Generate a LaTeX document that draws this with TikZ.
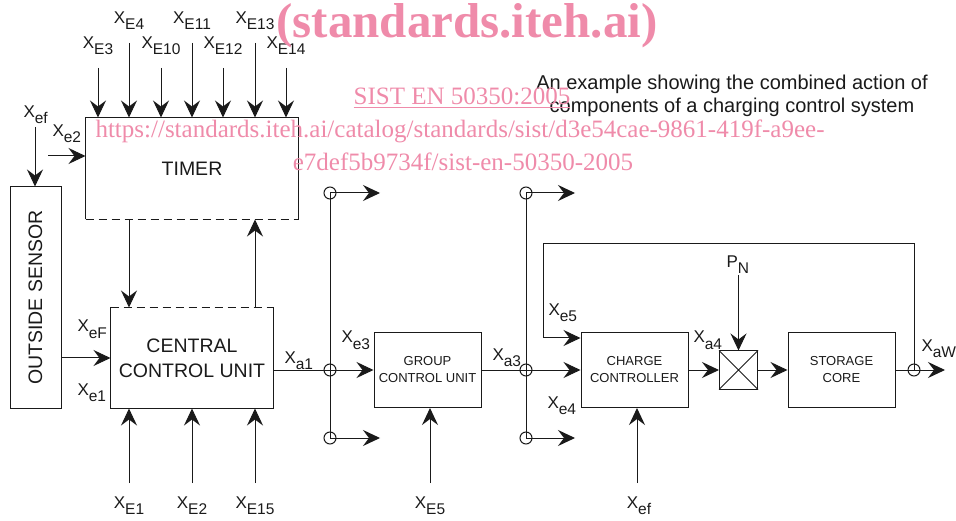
\documentclass[tikz,border=0pt]{standalone}
\usepackage{fontspec}
\setmainfont{Liberation Sans}
\newfontfamily\wmfont{Liberation Serif}
\usetikzlibrary{arrows.meta}
\definecolor{Ink}{HTML}{1A1A1A}
\definecolor{Mark}{HTML}{EF8BAA}
\newcommand\fs[2]{\fontsize{#1}{#2}\selectfont}
\newcommand\xs[2][X]{#1\raisebox{-6pt}{\fs{15.5}{15.5}#2}}

\begin{document}
\begin{tikzpicture}[x=1pt,y=-1pt,line width=1pt,draw=Ink,
  >={Stealth[length=17pt,width=16pt,inset=6pt]},
  every node/.style={text=Ink},
  blk/.style={draw,inner sep=0,minimum width=107pt,minimum height=75pt,align=center,font=\fs{13}{17}},
  big/.style={inner sep=0,align=center,font=\fs{19.5}{25}},
  tap/.style={draw,circle,inner sep=0,minimum size=12pt},
  sig/.style={anchor=base west,inner sep=0,font=\fs{17}{17}},
  dsh/.style={dash pattern=on 8pt off 5pt},
  wmark/.style={text=Mark,inner sep=0,anchor=base}]
\useasboundingbox (0,0) rectangle (956,521);

\node[big,minimum width=212pt,minimum height=101pt] (timer) at (192,168.5) {TIMER};
\draw (timer.south west) -- (timer.north west) -- (timer.north east) -- (timer.south east);
\draw[dsh] (timer.south west) -- (timer.south east);
\node[big,minimum width=162pt,minimum height=100pt] (ccu) at (192,358) {CENTRAL\\CONTROL UNIT};
\draw (ccu.north west) -- (ccu.south west) -- (ccu.south east) -- (ccu.north east);
\draw[dsh] (ccu.north west) -- (ccu.north east);
\node[draw,minimum width=51pt,minimum height=221pt,inner sep=0] (sensor) at (35.5,297.5) {};
\node[big,rotate=90] (sensortxt) at (sensor.center) {OUTSIDE SENSOR};
\node[blk] (grp) at (427.5,370) {GROUP\\CONTROL UNIT};
\node[blk] (chg) at (634.5,370) {CHARGE\\CONTROLLER};
\node[blk] (sto) at (841.5,370) {STORAGE\\CORE};
\node[draw,minimum size=38pt,inner sep=0] (mul) at (738.5,370) {};
\draw (mul.north west) -- (mul.south east) (mul.north east) -- (mul.south west);

\foreach \x/\y/\s in {98/68/E3,129/43/E4,161/68/E10,192/43/E11,223/68/E12,255/43/E13,286/68/E14}{
  \coordinate (in\s) at (\x,\y);
  \draw[->] (in\s) -- (in\s |- timer.north);
  \node[sig,anchor=south] (l\s) at (\x,\y-13) {\xs{\s}};}
\foreach \x/\s in {129/E1,192/E2,255/E15}{
  \coordinate (in\s) at (\x,483);
  \draw[->] (in\s) -- (in\s |- ccu.south);
  \node[sig,anchor=north] (l\s) at (\x,496) {\xs{\s}};}
\coordinate (inef) at (35,127);
\draw[->] (inef) -- (inef |- sensor.north);
\coordinate (ine2) at (48,156);
\draw[->] (ine2) -- (ine2 -| timer.west);
\draw[->] (inE4 |- timer.south) -- (inE4 |- ccu.north);
\draw[->] (inE13 |- ccu.north) -- (inE13 |- timer.south);
\draw[->] (sensor.east |- ccu.west) -- (ccu.west);

\node[tap] (t1a) at (330,193) {};
\node[tap] (t1b) at (330,370) {};
\node[tap] (t1c) at (330,438) {};
\node[tap] (t2a) at (526,193) {};
\node[tap] (t2b) at (526,370) {};
\node[tap] (t2c) at (526,438) {};
\node[tap] (tw) at (914,370) {};
\coordinate (o1a) at (380,193);
\coordinate (o1c) at (380,438);
\coordinate (o2a) at (575,193);
\coordinate (o2c) at (575,438);
\coordinate (oW) at (945,370);
\draw (t1a.center) -- (t1c.center) (t2a.center) -- (t2c.center);
\draw[->] (t1a.center) -- (o1a);
\draw[->] (t1c.center) -- (o1c);
\draw[->] (t2a.center) -- (o2a);
\draw[->] (t2c.center) -- (o2c);
\draw[->] (ccu.east |- t1b) -- (grp.west);
\draw[->] (grp.east) -- (chg.west);
\draw[->] (chg.east) -- (mul.west);
\draw[->] (mul.east) -- (sto.west);
\draw[->] (sto.east) -- (oW);
\coordinate (fbL) at (543,244);
\draw[->] (tw.center) |- (fbL) |- ([yshift=32pt]chg.west);
\coordinate (pN) at (738.5,275);
\draw[->] (pN) -- (mul.north);
\coordinate (inE5) at (430,483);
\draw[->] (inE5) -- (inE5 |- grp.south);
\node[sig,anchor=north] (lE5) at (430,496) {\xs{E5}};
\coordinate (inef2) at (637,483);
\draw[->] (inef2) -- (inef2 |- chg.south);
\node[sig,anchor=north] (lef2) at (639,496) {\xs{ef}};

\node[sig] (lef) at (23,118) {\xs{ef}};
\node[sig] (le2) at (52,137) {\xs{e2}};
\node[sig] (leF) at (77,332) {\xs{eF}};
\node[sig] (le1) at (77,395) {\xs{e1}};
\node[sig] (la1) at (284,363) {\xs{a1}};
\node[sig] (le3) at (341,343) {\xs{e3}};
\node[sig] (la3) at (492,360) {\xs{a3}};
\node[sig] (le5) at (548,316) {\xs{e5}};
\node[sig] (le4) at (547,408) {\xs{e4}};
\node[sig] (la4) at (693,343) {\xs{a4}};
\node[sig] (lPN) at (726,268) {\xs[P]{N}};
\node[sig] (laW) at (921,352) {\xs{aW}};

\node[align=center,font=\fs{20}{23}] (cap) at (732,96) {An example showing the combined action of\\components of a charging control system};

\node[wmark,font=\wmfont\bfseries\fs{49}{49}] (wm1) at (467,38) {(standards.iteh.ai)};
\node[wmark,font=\wmfont\fs{25}{25}] (wm2) at (462,105) {\underline{SIST EN 50350:2005}};
\node[wmark,font=\wmfont\fs{25}{25}] (wm3) at (460,138) {https://standards.iteh.ai/catalog/standards/sist/d3e54cae-9861-419f-a9ee-};
\node[wmark,font=\wmfont\fs{25}{25}] (wm4) at (463,171) {e7def5b9734f/sist-en-50350-2005};
\end{tikzpicture}
\end{document}
